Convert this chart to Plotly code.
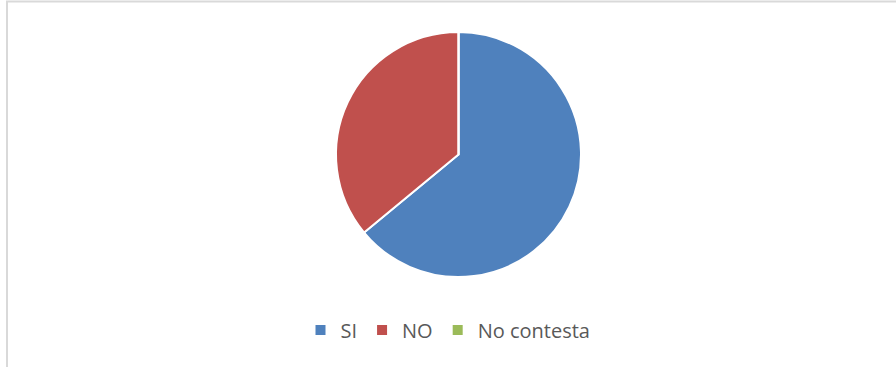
import plotly.graph_objects as go

# Data
labels = ['SI', 'NO', 'No contesta']
values = [64, 36, 0]
colors = ['#4f81bd', '#c0504d', '#9bbb59']

W, H = 896, 367

fig = go.Figure()
fig.add_trace(go.Pie(
    labels=labels,
    values=values,
    sort=False,
    direction='clockwise',
    rotation=0,
    textinfo='none',
    hoverinfo='label+percent',
    marker=dict(colors=colors, line=dict(color='white', width=2)),
    domain=dict(x=[336 / W, 581 / W], y=[1 - 277 / H, 1 - 32 / H]),
    showlegend=True,
))

# light grey chart frame (left and top visible)
fig.add_shape(type='rect', xref='paper', yref='paper',
              x0=7 / W, x1=1.05, y0=-0.05, y1=1 - 1.5 / H,
              line=dict(color='#d9d9d9', width=2))

fig.update_layout(
    width=W, height=H,
    margin=dict(l=0, r=0, t=0, b=0),
    paper_bgcolor='white',
    font=dict(family='Open Sans, sans-serif', color='#595959', size=20),
    legend=dict(orientation='h', x=0.5, xanchor='center', y=1 - 330 / H, yanchor='middle',
                font=dict(size=20, color='#595959'), itemwidth=30,
                bgcolor='rgba(0,0,0,0)'),
)

# page has a default 8px body margin; drop it so the figure sits at 0,0
fig.write_html('out.html', config={'displayModeBar': False},
               post_script="document.body.style.margin='0';")
